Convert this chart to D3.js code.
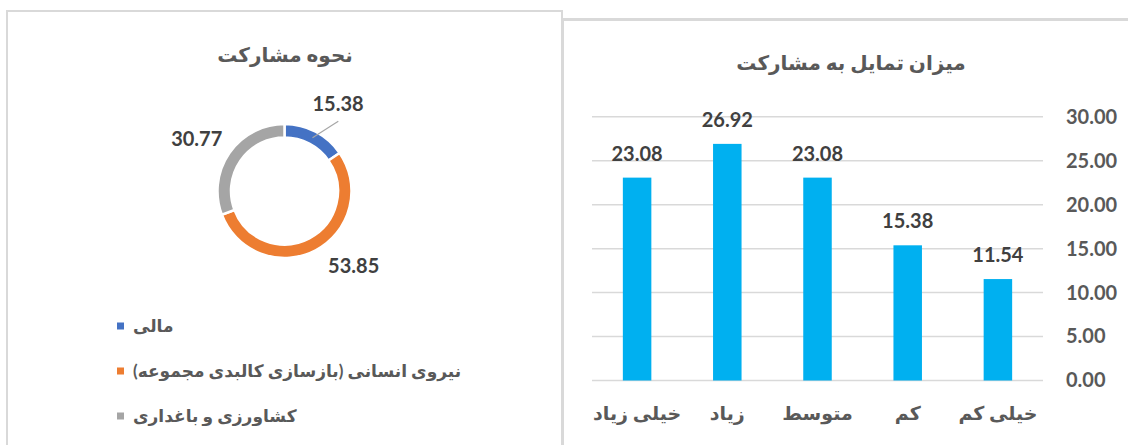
<!DOCTYPE html>
<html>
<head>
<meta charset="utf-8">
<script src="https://cdn.jsdelivr.net/npm/d3@7"></script>
<style>
  html, body { margin: 0; padding: 0; background: #fff; }
  svg { display: block; }
  text { font-family: Lato, "DejaVu Sans", sans-serif; font-weight: bold; }
</style>
</head>
<body>
<svg id="chart" width="1128" height="445"></svg>
<script>
// ---- Donut chart data ----
const donutTitle = "نحوه مشارکت";
const donutCategories = ["مالی", "نیروی انسانی (بازسازی کالبدی مجموعه)", "کشاورزی و باغداری"];
const donutValues = [15.38, 53.85, 30.77];
const donutColors = ["#4472C4", "#ED7D31", "#A5A5A5"];

// ---- Bar chart data ----
const barTitle = "میزان تمایل به مشارکت";
const barCategories = ["خیلی زیاد", "زیاد", "متوسط", "کم", "خیلی کم"];
const barValues = [23.08, 26.92, 23.08, 15.38, 11.54];
const yTicks = [0, 5, 10, 15, 20, 25, 30];

const RLM = "\u200F";
const svg = d3.select("#chart");

// Panels
svg.append("rect").attr("x", 0).attr("y", 0).attr("width", 1128).attr("height", 445).attr("fill", "#fff");
svg.append("rect").attr("x", 7).attr("y", 11).attr("width", 555).attr("height", 480)
  .attr("fill", "#fff").attr("stroke", "#D9D9D9").attr("stroke-width", 2);
svg.append("rect").attr("x", 562.5).attr("y", 19.5).attr("width", 620).attr("height", 480)
  .attr("fill", "#fff").attr("stroke", "#D9D9D9").attr("stroke-width", 3);

// ---------------- Donut ----------------
const cx = 284.5, cy = 191, rOuter = 67, rInner = 53.5;
const g1 = svg.append("g").attr("transform", `translate(${cx},${cy})`);

svg.append("text").attr("x", 285).attr("y", 62).attr("text-anchor", "middle")
  .attr("font-size", 20).attr("fill", "#595959").text(donutTitle + RLM);

const pie = d3.pie().sort(null).value(d => d);
const arcs = pie(donutValues);
const arc = d3.arc().innerRadius(rInner).outerRadius(rOuter);

g1.selectAll("path.slice").data(arcs).join("path")
  .attr("class", "slice")
  .attr("d", arc)
  .attr("fill", (d, i) => donutColors[i])
  .attr("stroke", "#fff").attr("stroke-width", 2.5);

// Labels (best-fit style placement around ring)
const labelNudgeDeg = [4, -15, -4];
const labelR = 102;
const labelPos = arcs.map((d, i) => {
  const a = (d.startAngle + d.endAngle) / 2 + labelNudgeDeg[i] * Math.PI / 180;
  return [labelR * Math.sin(a), -labelR * Math.cos(a)];
});

// leader line for the first slice
const midArc = d3.arc().innerRadius((rInner + rOuter) / 2).outerRadius((rInner + rOuter) / 2);
const c0 = midArc.centroid(arcs[0]);
const a0 = (arcs[0].startAngle + arcs[0].endAngle) / 2 + 10 * Math.PI / 180;
g1.append("line")
  .attr("x1", c0[0]).attr("y1", c0[1])
  .attr("x2", 88 * Math.sin(a0)).attr("y2", -88 * Math.cos(a0))
  .attr("stroke", "#A6A6A6").attr("stroke-width", 1.2);

g1.selectAll("text.dl").data(arcs).join("text")
  .attr("class", "dl")
  .attr("x", (d, i) => labelPos[i][0])
  .attr("y", (d, i) => labelPos[i][1])
  .attr("dy", "0.35em")
  .attr("text-anchor", "middle")
  .attr("font-size", 20).attr("fill", "#404040")
  .text(d => d3.format(".2f")(d.data));

// Legend
const legendY = d3.scalePoint().domain(donutCategories).range([326, 416]);
const lg = svg.append("g");
donutCategories.forEach((c, i) => {
  lg.append("rect").attr("x", 117).attr("y", legendY(c) - 3.5).attr("width", 7).attr("height", 7)
    .attr("fill", donutColors[i]);
  lg.append("text").attr("x", 133).attr("y", legendY(c)).attr("dy", "0.35em")
    .attr("font-size", 17).attr("fill", "#595959").text(c + RLM);
});

// ---------------- Bar chart ----------------
const x = d3.scaleBand().domain(barCategories).range([592, 1043]).paddingInner(0.684).paddingOuter(0.342);
const y = d3.scaleLinear().domain([0, 30]).range([380.5, 116.8]);

svg.append("text").attr("x", 851).attr("y", 70).attr("text-anchor", "middle")
  .attr("font-size", 20).attr("fill", "#595959").text(barTitle + RLM);

// gridlines
svg.append("g").selectAll("line").data(yTicks).join("line")
  .attr("x1", 592).attr("x2", 1043)
  .attr("y1", d => y(d)).attr("y2", d => y(d))
  .attr("stroke", "#D9D9D9").attr("stroke-width", 1.5);

// y axis (right side)
const yAxis = d3.axisRight(y).tickValues(yTicks).tickFormat(d3.format(".2f")).tickSize(0).tickPadding(0);
const yg = svg.append("g").attr("transform", "translate(1066,0)").call(yAxis);
yg.select(".domain").remove();
yg.selectAll("text").attr("font-size", 20).attr("fill", "#595959")
  .attr("font-family", "Lato, 'DejaVu Sans', sans-serif").attr("font-weight", "bold");

// bars
svg.append("g").selectAll("rect").data(barValues).join("rect")
  .attr("x", (d, i) => x(barCategories[i]))
  .attr("width", x.bandwidth())
  .attr("y", d => y(d))
  .attr("height", d => y(0) - y(d))
  .attr("fill", "#00B0F0");

// data labels
svg.append("g").selectAll("text").data(barValues).join("text")
  .attr("x", (d, i) => x(barCategories[i]) + x.bandwidth() / 2)
  .attr("y", d => y(d) - 17)
  .attr("text-anchor", "middle")
  .attr("font-size", 20).attr("fill", "#404040")
  .text(d => d3.format(".2f")(d));

// category labels
const xAxis = d3.axisBottom(x).tickSize(0).tickPadding(0);
const xg = svg.append("g").attr("transform", "translate(0,406)").call(xAxis);
xg.select(".domain").remove();
xg.selectAll("text").attr("font-size", 19).attr("fill", "#595959")
  .attr("font-family", "Lato, 'DejaVu Sans', sans-serif").attr("font-weight", "bold")
  .text(d => d + RLM);
</script>
</body>
</html>
